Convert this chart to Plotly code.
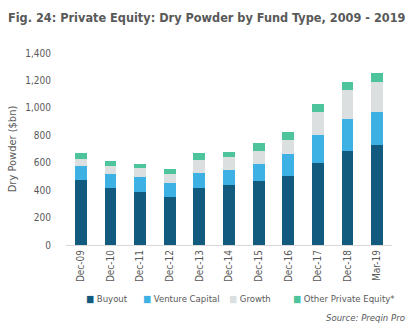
import plotly.graph_objects as go

categories = ["Dec-09", "Dec-10", "Dec-11", "Dec-12", "Dec-13", "Dec-14",
              "Dec-15", "Dec-16", "Dec-17", "Dec-18", "Mar-19"]
buyout = [475, 418, 387, 353, 418, 438, 469, 506, 599, 688, 730]
venture = [102, 100, 107, 100, 108, 112, 122, 158, 204, 232, 241]
growth = [53, 59, 68, 67, 95, 90, 95, 103, 166, 212, 219]
other = [39, 36, 31, 37, 48, 39, 56, 58, 58, 58, 63]

series_names = ["Buyout", "Venture Capital", "Growth", "Other Private Equity*"]
series_values = [buyout, venture, growth, other]
colors = ["#125b7f", "#3eb1e4", "#dcdfe0", "#4dc49b"]

COND = "DejaVu Sans Condensed, Liberation Sans Narrow, sans-serif"
GREY = "#595959"

L, R, T, B = 60, 22, 53, 91
W, H = 414, 336
PW, PH = W - L - R, H - T - B

fig = go.Figure()
for name, vals, col in zip(series_names, series_values, colors):
    fig.add_trace(go.Bar(x=categories, y=vals, name=name, showlegend=False,
                         marker=dict(color=col, line=dict(width=0))))

fig.update_layout(
    barmode="stack",
    bargap=0.6,
    width=W, height=H,
    margin=dict(l=L, r=R, t=T, b=B),
    plot_bgcolor="white", paper_bgcolor="white",
    font=dict(family=COND, color=GREY, size=10),
    title=dict(text="<b>Fig. 24: Private Equity: Dry Powder by Fund Type, 2009 - 2019</b>",
               x=8 / W, xanchor="left", xref="container",
               y=1 - 18 / H, yanchor="middle", yref="container",
               font=dict(family=COND, size=12.6, color=GREY)),
    xaxis=dict(tickangle=-90, showgrid=False, showline=True, linecolor="#d9d9d9",
               linewidth=1, ticks="", tickfont=dict(size=10, color=GREY),
               range=[-0.5, 10.5]),
    yaxis=dict(range=[0, 1400], dtick=200, tickformat=",", showgrid=False,
               zeroline=False, showline=False, ticks="",
               tickfont=dict(size=10, color=GREY), ticklabelstandoff=14,
               title=dict(text="Dry Powder ($bn)", font=dict(size=11, color=GREY),
                          standoff=6)),
    showlegend=False,
)


def px_x(px):
    return (px - L) / PW


def px_y(py):
    return (H - B - py) / PH


# legend drawn as text entries with coloured square glyphs
legend_x = [78, 136, 224, 289]
for name, col, lx in zip(series_names, colors, legend_x):
    fig.add_annotation(
        text=f"<span style='color:{col}'>■</span> {name}",
        xref="paper", yref="paper", x=px_x(lx), xanchor="left",
        y=px_y(298), yanchor="middle", showarrow=False,
        font=dict(size=9.5, color=GREY, family=COND))

fig.add_annotation(text="<i>Source: Preqin Pro</i>", xref="paper", yref="paper",
                   x=px_x(407), xanchor="right", y=px_y(317), yanchor="middle",
                   showarrow=False, font=dict(size=9.5, color=GREY, family=COND))

fig.write_html("out.html")
